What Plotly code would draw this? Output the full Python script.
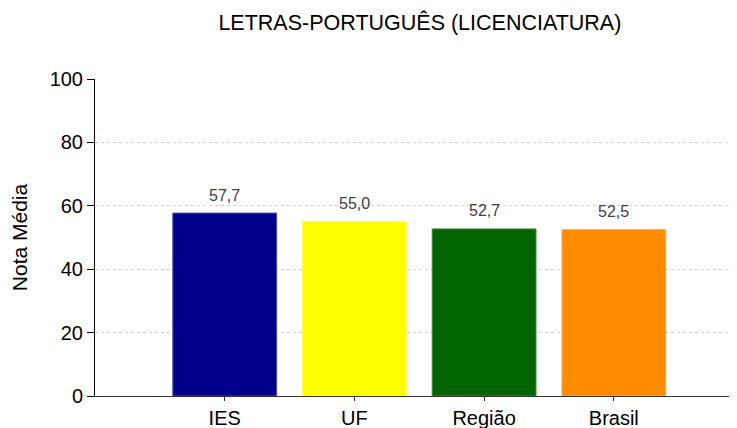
import plotly.graph_objects as go

categories = ["IES", "UF", "Região", "Brasil"]
values = [57.7, 55.0, 52.7, 52.5]
colors = ["#00008B", "#FFFF00", "#006400", "#FF8C00"]
line_colors = ["#4A4AB0", "#FFFF60", "#3A8A3A", "#FFB060"]
y_ticks = [0, 20, 40, 60, 80, 100]

labels = [f"{v:.1f}".replace(".", ",") for v in values]

fig = go.Figure()
fig.add_trace(go.Bar(
    x=categories, y=values,
    marker=dict(color=colors, line=dict(color=line_colors, width=1)),
    width=0.8,
    hoverinfo="skip",
))
for c, v, t in zip(categories, values, labels):
    fig.add_annotation(x=c, y=v, text=t, showarrow=False, yshift=18,
                       font=dict(family="Liberation Sans, Arial", size=16, color="#404040"))

# page body has an 8px margin, so the figure is sized to fit the 737x428 window
fig.update_layout(
    width=729, height=420,
    margin=dict(l=87, r=0, t=71, b=32),
    paper_bgcolor="white", plot_bgcolor="white",
    showlegend=False,
    title=dict(text="LETRAS-PORTUGUÊS (LICENCIATURA)", x=0.565, xanchor="center",
               y=0.9667, yanchor="middle",
               font=dict(family="Liberation Sans, Arial", size=21.5, color="black")),
    font=dict(family="Liberation Sans, Arial", color="black"),
)
fig.update_xaxes(
    range=[-1, 3.95], showgrid=False, automargin=False,
    showline=True, linecolor="#333333", linewidth=1,
    ticks="outside", ticklen=4, tickcolor="#333333",
    tickfont=dict(size=20, color="black"),
)
fig.update_yaxes(
    range=[0, 100], tickvals=y_ticks, automargin=False,
    showgrid=True, gridcolor="#FFC0CB", griddash="dot", gridwidth=1,
    zeroline=False,
    showline=True, linecolor="black", linewidth=1,
    ticks="outside", ticklen=7, tickcolor="black",
    tickfont=dict(size=20, color="black"),
    title=dict(text="Nota Média", font=dict(size=21, color="black"), standoff=16),
)
fig.write_html("out.html")
